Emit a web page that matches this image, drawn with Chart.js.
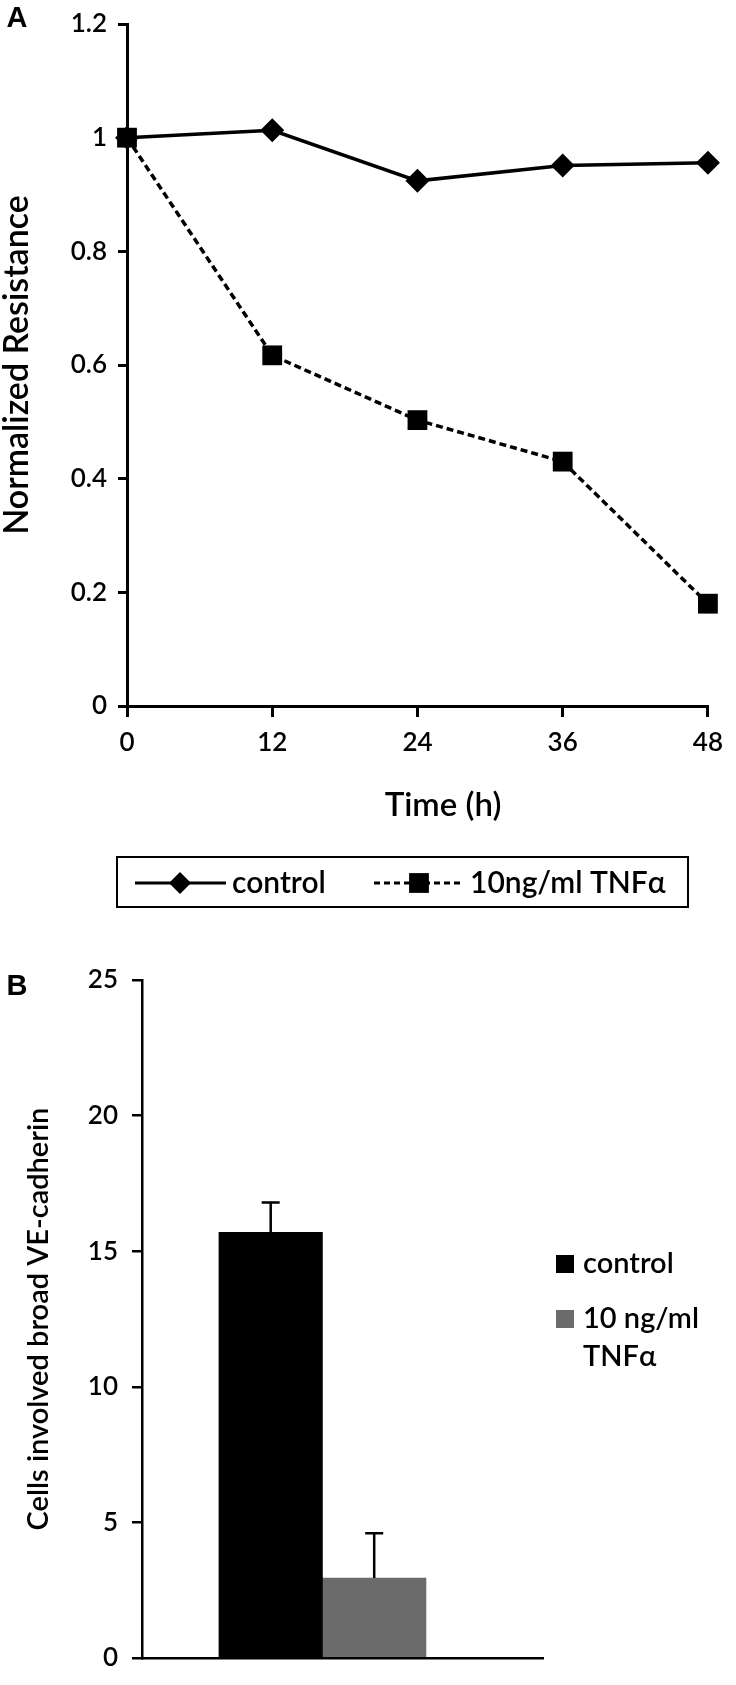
<!DOCTYPE html>
<html>
<head>
<meta charset="utf-8">
<script src="https://cdn.jsdelivr.net/npm/chart.js@4.4.1/dist/chart.umd.min.js"></script>
<style>
  html, body { margin: 0; padding: 0; background: #fff; }
  body { width: 736px; height: 1685px; position: relative; overflow: hidden; }
  #wrapA { position: absolute; left: 0; top: 0; width: 736px; height: 930px; }
  #wrapB { position: absolute; left: 0; top: 930px; width: 736px; height: 755px; }
</style>
</head>
<body>
<div id="wrapA"><canvas id="chartA"></canvas></div>
<div id="wrapB"><canvas id="chartB"></canvas></div>
<script>
// panel A - normalized resistance over time
const timeLabels = ['0', '12', '24', '36', '48'];
const controlResistance = [1.0, 1.013, 0.924, 0.951, 0.956];
const tnfResistance = [1.0, 0.617, 0.503, 0.43, 0.18];
const resistanceTicks = ['0', '0.2', '0.4', '0.6', '0.8', '1', '1.2'];

// panel B - cells with broad VE-cadherin
const controlCells = [15.7];
const controlCellsErr = [1.1];
const tnfCells = [2.95];
const tnfCellsErr = [1.65];
const cellTicks = ['0', '5', '10', '15', '20', '25'];

const FONT = 'Lato';
const WEIGHT = 600;
const drawPoint = Chart.helpers.drawPoint;

const panelLetter = {
    id: 'panelLetter',
    afterDraw(chart, args, opts) {
        const ctx = chart.ctx;
        ctx.save();
        ctx.fillStyle = '#000';
        ctx.font = 'bold 29px "Liberation Sans"';
        ctx.textAlign = 'center';
        ctx.textBaseline = 'middle';
        ctx.fillText(opts.text, opts.x, opts.y);
        ctx.restore();
    }
};

// x axis title of panel A sits a little right of the axis centre
const timeTitle = {
    id: 'timeTitle',
    afterDraw(chart, args, opts) {
        const ctx = chart.ctx;
        ctx.save();
        ctx.fillStyle = '#000';
        ctx.font = WEIGHT + ' 33px ' + FONT;
        ctx.textAlign = 'center';
        ctx.textBaseline = 'middle';
        ctx.fillText(opts.text, opts.x, opts.y);
        ctx.restore();
    }
};

// boxed legend under panel A (line + marker samples)
const lineLegend = {
    id: 'lineLegend',
    afterDraw(chart) {
        const ctx = chart.ctx;
        const y = 883;
        ctx.save();
        ctx.strokeStyle = '#000';
        ctx.fillStyle = '#000';
        ctx.lineWidth = 2;
        ctx.strokeRect(117, 857, 571, 50);

        ctx.lineWidth = 3;
        ctx.beginPath();
        ctx.moveTo(135, y);
        ctx.lineTo(226, y);
        ctx.stroke();
        drawPoint(ctx, { pointStyle: 'rectRot', radius: 11, rotation: 0, borderWidth: 0 }, 180, y);

        ctx.setLineDash([6, 4]);
        ctx.beginPath();
        ctx.moveTo(374, y);
        ctx.lineTo(464, y);
        ctx.stroke();
        ctx.setLineDash([]);
        drawPoint(ctx, { pointStyle: 'rect', radius: 14, rotation: 0, borderWidth: 0 }, 419, y);

        ctx.font = WEIGHT + ' 30px ' + FONT;
        ctx.textAlign = 'left';
        ctx.textBaseline = 'middle';
        ctx.fillText(chart.data.datasets[0].label, 232, y);
        ctx.fillText(chart.data.datasets[1].label, 470, y);
        ctx.restore();
    }
};

const chartA = new Chart(document.getElementById('chartA'), {
    type: 'line',
    data: {
        labels: timeLabels,
        datasets: [{
            label: 'control',
            data: controlResistance,
            borderColor: '#000',
            backgroundColor: '#000',
            borderWidth: 3.5,
            pointStyle: 'rectRot',
            pointRadius: 12,
            pointBorderWidth: 0,
            clip: false,
            order: 1
        }, {
            label: '10ng/ml TNFα',
            data: tnfResistance,
            borderColor: '#000',
            backgroundColor: '#000',
            borderWidth: 3.5,
            borderDash: [7, 4],
            pointStyle: 'rect',
            pointRadius: 14,
            pointBorderWidth: 0,
            clip: false,
            order: 0
        }]
    },
    options: {
        animation: false,
        responsive: true,
        maintainAspectRatio: false,
        layout: { padding: { top: 13, right: 20, bottom: 0, left: 0 } },
        plugins: {
            legend: { display: false },
            tooltip: { enabled: false },
            panelLetter: { text: 'A', x: 17, y: 19 },
            timeTitle: { text: 'Time (h)', x: 443, y: 805 }
        },
        scales: {
            x: {
                offset: false,
                grid: { drawOnChartArea: false, color: '#000', lineWidth: 3, tickLength: 11 },
                border: { color: '#000', width: 3 },
                ticks: { color: '#000', font: { family: FONT, size: 26, weight: WEIGHT, lineHeight: 1 }, padding: 13, maxRotation: 0 },
                afterFit: (scale) => { scale.height = 224; }
            },
            y: {
                min: 0,
                max: 1.2,
                grid: { drawOnChartArea: false, color: '#000', lineWidth: 3, tickLength: 9 },
                border: { color: '#000', width: 3 },
                ticks: {
                    stepSize: 0.2,
                    color: '#000',
                    font: { family: FONT, size: 26, weight: WEIGHT, lineHeight: 1 },
                    padding: 11,
                    callback: (value, index) => resistanceTicks[index]
                },
                title: {
                    display: true, text: 'Normalized Resistance', color: '#000',
                    font: { family: FONT, size: 34, weight: WEIGHT, lineHeight: 1 }, padding: { top: 0, bottom: 0 }
                },
                afterFit: (scale) => { scale.width = 127; }
            }
        }
    },
    plugins: [lineLegend, panelLetter, timeTitle]
});

// error bars on top of each bar, via the y scale
const errorBars = {
    id: 'errorBars',
    afterDatasetsDraw(chart) {
        const ctx = chart.ctx;
        const yScale = chart.scales.y;
        chart.data.datasets.forEach((ds, i) => {
            const meta = chart.getDatasetMeta(i);
            meta.data.forEach((bar, j) => {
                const top = yScale.getPixelForValue(ds.data[j].y + ds.errors[j]);
                ctx.save();
                ctx.strokeStyle = '#000';
                ctx.lineWidth = 2.5;
                ctx.beginPath();
                ctx.moveTo(bar.x, bar.y);
                ctx.lineTo(bar.x, top);
                ctx.moveTo(bar.x - 9, top);
                ctx.lineTo(bar.x + 9, top);
                ctx.stroke();
                ctx.restore();
            });
        });
    }
};

// legend to the right of panel B, the second label wraps onto two lines
const boxLegend = {
    id: 'boxLegend',
    afterDraw(chart) {
        const ctx = chart.ctx;
        const rows = [325, 380];
        ctx.save();
        ctx.font = WEIGHT + ' 29px ' + FONT;
        ctx.textAlign = 'left';
        ctx.textBaseline = 'middle';
        chart.data.datasets.forEach((ds, i) => {
            ctx.fillStyle = ds.backgroundColor;
            ctx.fillRect(556, rows[i], 18, 18);
            ctx.fillStyle = '#000';
            ds.legendLines.forEach((line, k) => {
                ctx.fillText(line, 583, rows[i] + 9 + k * 38);
            });
        });
        ctx.restore();
    }
};

// the single group of bars sits left of the middle of the x axis
const groupX = 0.445;

const chartB = new Chart(document.getElementById('chartB'), {
    type: 'bar',
    data: {
        datasets: [{
            label: 'control',
            legendLines: ['control'],
            data: controlCells.map(v => ({ x: groupX, y: v })),
            errors: controlCellsErr,
            backgroundColor: '#000'
        }, {
            label: '10 ng/ml TNFα',
            legendLines: ['10 ng/ml', 'TNFα'],
            data: tnfCells.map(v => ({ x: groupX, y: v })),
            errors: tnfCellsErr,
            backgroundColor: '#6b6b6b'
        }]
    },
    options: {
        animation: false,
        responsive: true,
        maintainAspectRatio: false,
        datasets: { bar: { barThickness: 103.5 } },
        layout: { padding: { top: 50, right: 193, bottom: 0, left: 0 } },
        plugins: {
            legend: { display: false },
            tooltip: { enabled: false },
            panelLetter: { text: 'B', x: 17, y: 57 }
        },
        scales: {
            x: {
                type: 'linear',
                min: 0,
                max: 1,
                grid: { display: false },
                border: { color: '#000', width: 2.5 },
                ticks: { display: false },
                afterFit: (scale) => { scale.height = 10; }
            },
            y: {
                min: 0,
                max: 25,
                grid: { drawOnChartArea: false, color: '#000', lineWidth: 2.5, tickLength: 10 },
                border: { color: '#000', width: 2.5 },
                ticks: {
                    stepSize: 5,
                    color: '#000',
                    font: { family: FONT, size: 26, weight: WEIGHT, lineHeight: 1 },
                    padding: 14,
                    callback: (value, index) => cellTicks[index]
                },
                title: {
                    display: true, text: 'Cells involved broad VE-cadherin', color: '#000',
                    font: { family: FONT, size: 29, weight: WEIGHT, lineHeight: 1 }, padding: { top: 24, bottom: 0 }
                },
                afterFit: (scale) => { scale.width = 142; }
            }
        }
    },
    plugins: [errorBars, boxLegend, panelLetter]
});
</script>
</body>
</html>
